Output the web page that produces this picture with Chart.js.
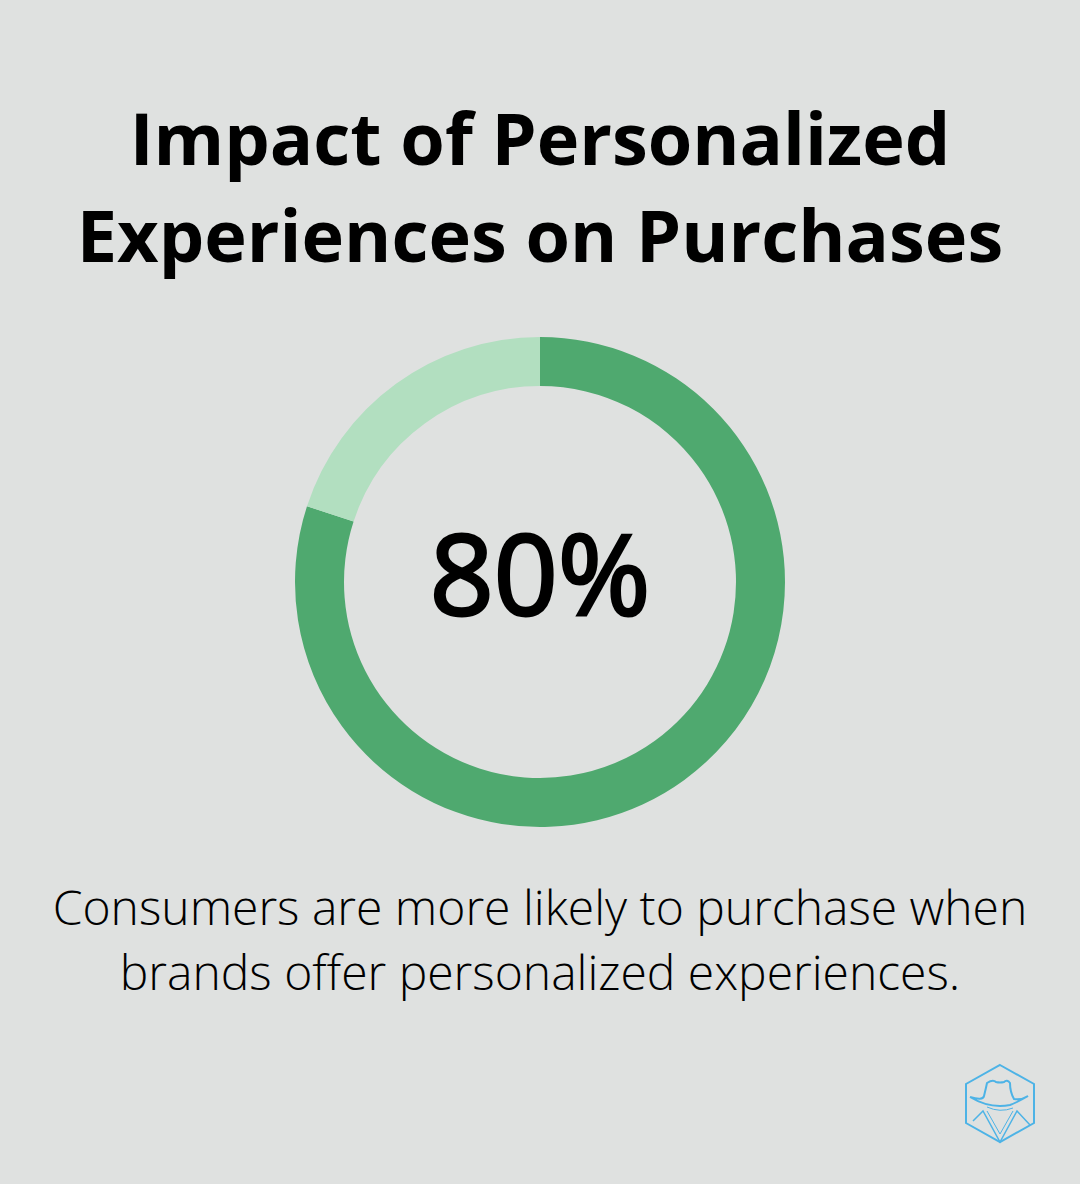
<!DOCTYPE html>
<html>
<head>
<meta charset="utf-8">
<style>
html, body { margin: 0; padding: 0; background: #dfe1e0; }
#page { position: relative; width: 1080px; height: 1184px; overflow: hidden; font-family: "Open Sans", sans-serif; color: #000; }
h1 { position: absolute; left: 0; top: 88px; width: 1080px; margin: 0; text-align: center; font-size: 72px; line-height: 97px; font-weight: 700; }
#chartBox { position: absolute; left: 290px; top: 332px; width: 500px; height: 500px; }
#center { position: absolute; left: 0; top: 497px; width: 1080px; text-align: center; font-size: 112px; line-height: 150px; font-weight: 400; -webkit-text-stroke: 3px #000; }
#note { position: absolute; left: 0; top: 874px; width: 1080px; text-align: center; font-size: 48px; line-height: 65px; font-weight: 300; }
#badge { position: absolute; left: 950px; top: 1050px; }
</style>
</head>
<body>
<div id="page">
  <h1 style="padding-top:1px">Impact of Personalized<br>Experiences on Purchases</h1>
  <div id="chartBox"><canvas id="ring"></canvas></div>
  <div id="center">80%</div>
  <div id="note">Consumers are more likely to purchase when<br>brands offer personalized experiences.</div>
  <svg id="badge" width="100" height="110" viewBox="0 0 100 110" fill="none" stroke="#4db3e6" stroke-width="2">
    <path d="M50 15 L84 34 L84 73 L50 92 L16 73 L16 34 Z"/>
    <path d="M20 47 Q33 51 34 46 Q36 38 37 33 Q43 29 46 32 Q50 33 54 32 Q57 29 60 33 Q60 42 64 49 Q72 50 78 46 Q68 52 60 55 Q40 59 20 47"/>
    <path d="M37 57 Q50 63 63 58" stroke-width="1"/>
    <path d="M23 71 L33 61 L50 92 L67 61 L80 75" stroke-width="1.5"/>
    <path d="M37 61 L50 84 L63 61" stroke-width="1"/>
  </svg>
</div>
<script src="https://cdn.jsdelivr.net/npm/chart.js@4"></script>
<script>
const labels = ["Likely to purchase", "Other"];
const values = [80, 20];
const colors = ["#4fa96f", "#b2dfc0"];

new Chart(document.getElementById("ring"), {
    type: "doughnut",
    data: {
        labels: labels,
        datasets: [{
            data: values,
            backgroundColor: colors,
            borderWidth: 0
        }]
    },
    options: {
        responsive: true,
        maintainAspectRatio: false,
        animation: false,
        cutout: "80%",
        radius: 245,
        plugins: {
            legend: { display: false },
            tooltip: { enabled: false }
        }
    }
});
</script>
</body>
</html>
